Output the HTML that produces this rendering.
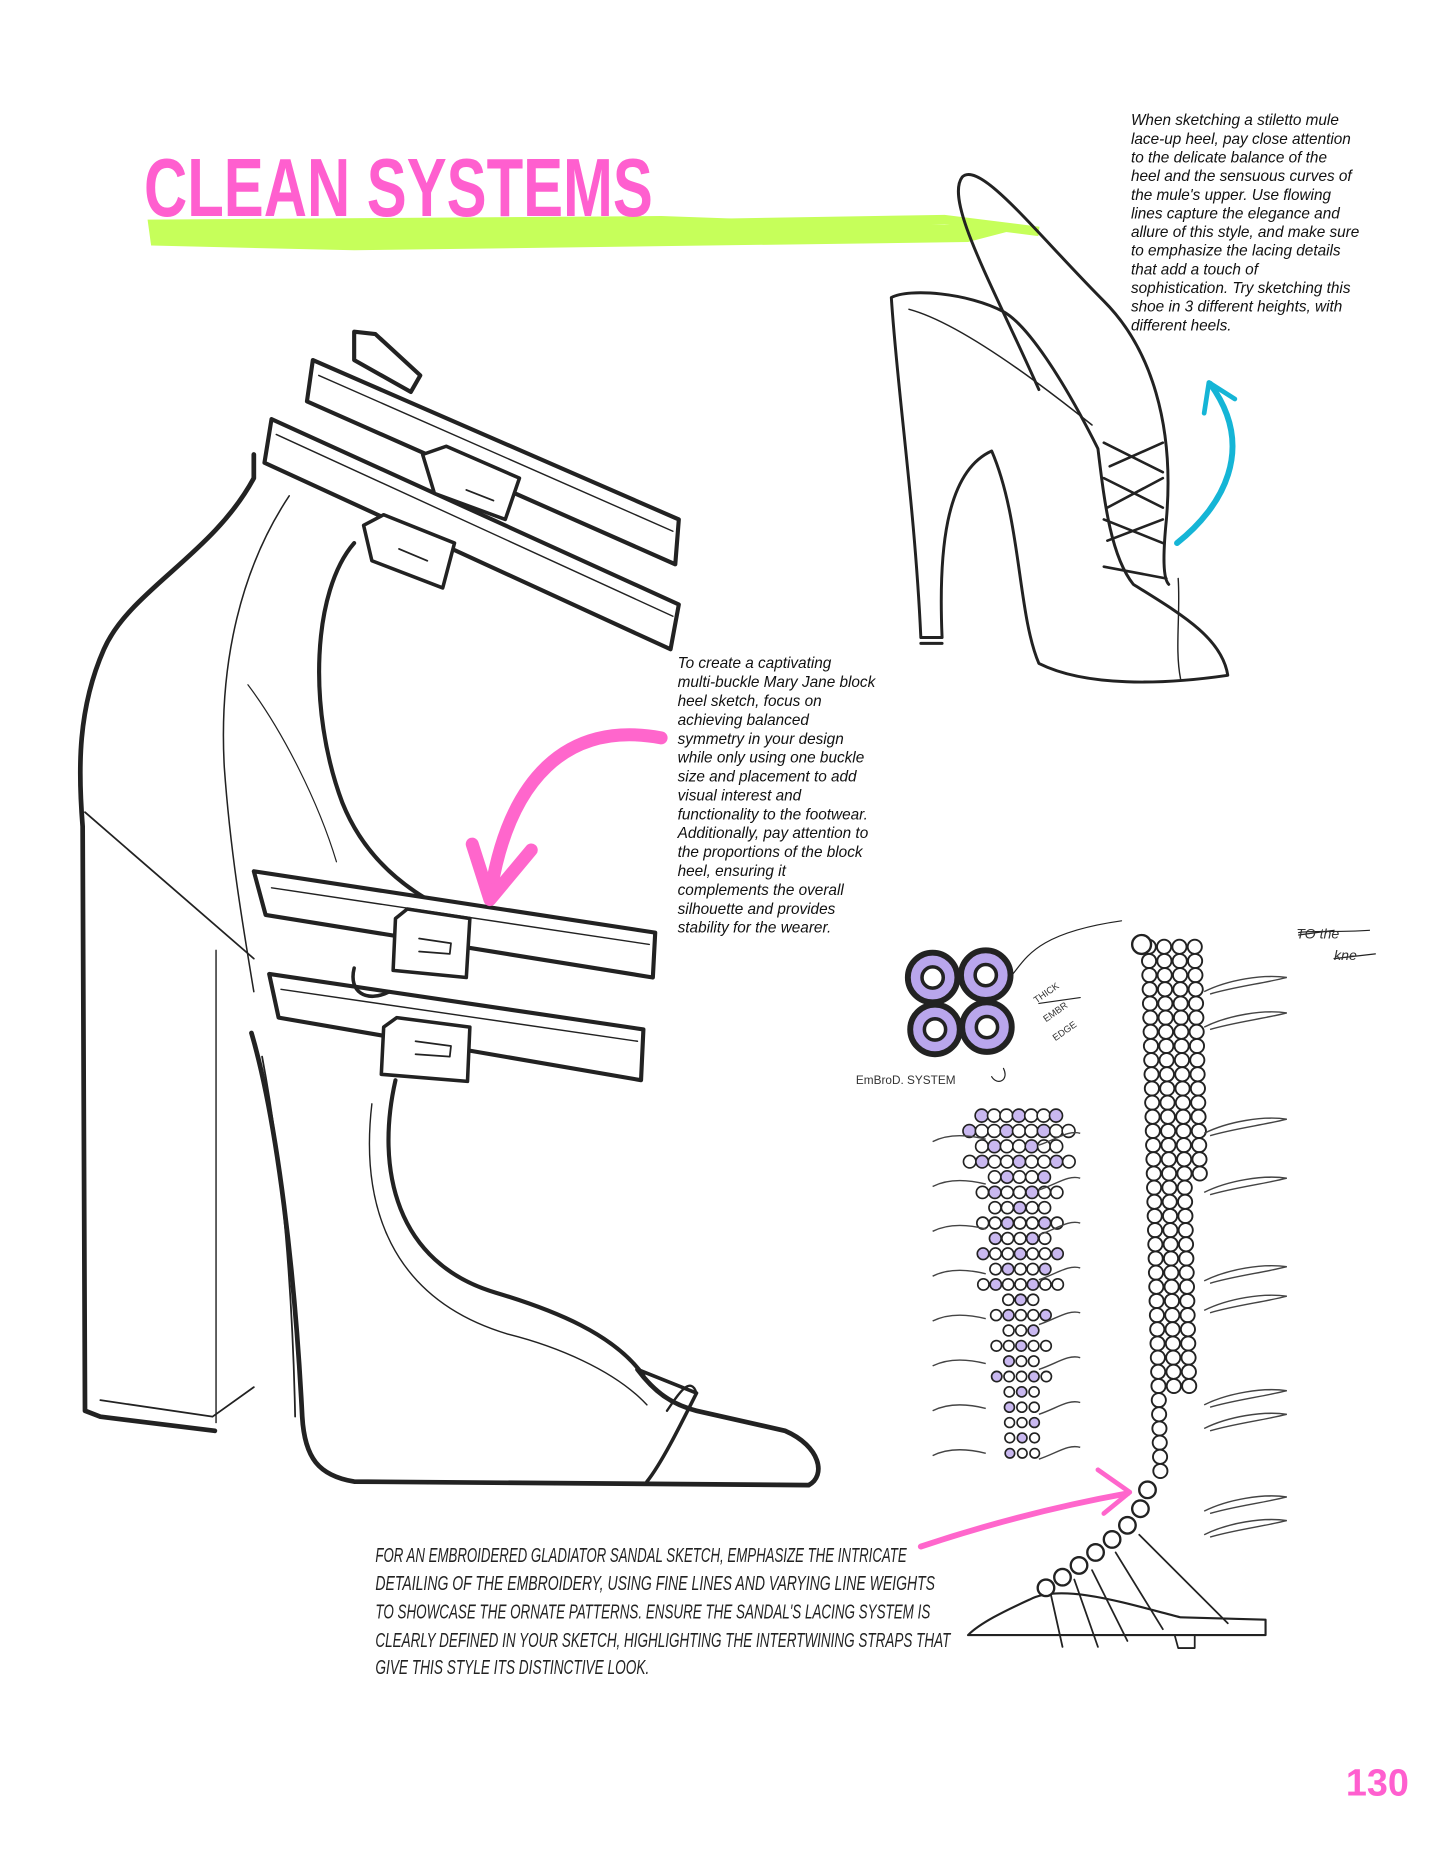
<!DOCTYPE html>
<html><head><meta charset="utf-8"><style>
html,body{margin:0;padding:0;background:#fff;}
svg{display:block}
.t{font-family:"Liberation Sans",sans-serif;font-style:italic;font-size:13px;fill:#111}
.h{font-family:"Liberation Sans",sans-serif;font-style:italic;font-size:17px;fill:#222}
</style></head><body>
<svg width="1445" height="1870" viewBox="0 0 1224 1584" xmlns="http://www.w3.org/2000/svg">
<!-- green brush -->
<path d="M125,186 L560,183 L700,188 L870,192 L820,205 L600,208 L300,212 L128,208 Z" fill="#c6ff5a"/>
<path d="M560,190 L800,186 L880,196" stroke="#c6ff5a" stroke-width="8" fill="none"/>
<text x="122" y="183" font-family="Liberation Sans,sans-serif" font-weight="bold" font-size="70" fill="#ff5fcf" textLength="431" lengthAdjust="spacingAndGlyphs">CLEAN SYSTEMS</text>

<g fill="none" stroke="#222" stroke-linecap="round" stroke-linejoin="round">
<!-- big shoe -->
<path d="M215,385 L215,405 C180,470 110,500 88,550 C66,600 66,650 70,700 L72,1195 L85,1200 L182,1212" stroke-width="4"/>
<path d="M85,1186 L180,1200 L215,1175" stroke-width="1.5"/>
<path d="M72,688 L215,812" stroke-width="1.5"/>
<path d="M183,805 L183,1205" stroke-width="1.2"/>
<path d="M213,875 C235,950 250,1080 256,1200 C258,1235 270,1250 300,1255 L685,1258 C700,1250 695,1225 665,1212 L590,1195 C570,1190 555,1180 540,1160" stroke-width="4"/>
<path d="M222,895 C240,990 248,1100 250,1200" stroke-width="1.5"/>
<path d="M245,420 C205,480 185,560 190,650 C195,720 205,780 215,840" stroke-width="1.3"/>
<path d="M300,460 C265,500 260,600 290,680 C310,730 350,760 395,778" stroke-width="3.5"/>
<path d="M335,915 C318,990 335,1070 420,1095 C470,1110 520,1130 545,1165" stroke-width="3.5"/>
<path d="M315,935 C305,1020 330,1100 430,1130 C470,1140 520,1160 548,1190" stroke-width="1.2"/>
<path d="M210,580 C240,620 270,680 285,730" stroke-width="1"/>
<path d="M540,1160 L590,1180 C575,1210 560,1240 548,1255" stroke-width="3"/>
<path d="M565,1195 C575,1180 585,1165 590,1180" stroke-width="2"/>
<!-- straps -->
<path d="M300,281 L318,283 L356,318 L348,332 L300,305 Z" stroke-width="3.5" fill="#fff"/>
<path d="M265,305 L575,440 L572,478 L260,340 Z" stroke-width="3.5" fill="#fff"/>
<path d="M270,318 L570,450" stroke-width="1.2"/>
<path d="M230,355 L575,512 L568,550 L224,392 Z" stroke-width="3.5" fill="#fff"/>
<path d="M234,368 L570,522" stroke-width="1.2"/>
<path d="M358,385 L378,378 L440,405 L428,440 L368,418 Z" stroke-width="3" fill="#fff"/>
<path d="M395,415 L418,424" stroke-width="1.5"/>
<path d="M308,445 L325,436 L385,460 L375,498 L315,475 Z" stroke-width="3" fill="#fff"/>
<path d="M338,465 L362,475" stroke-width="1.5"/>
<path d="M215,738 L555,790 L553,828 L225,775 Z" stroke-width="3.5" fill="#fff"/>
<path d="M230,752 L550,800" stroke-width="1.2"/>
<path d="M228,825 L545,872 L543,915 L236,862 Z" stroke-width="3.5" fill="#fff"/>
<path d="M238,838 L540,882" stroke-width="1.2"/>
<path d="M335,778 L345,770 L398,778 L395,828 L333,822 Z" stroke-width="3" fill="#fff"/>
<path d="M355,795 L382,799 L381,808 L355,806" stroke-width="1.5"/>
<path d="M300,820 C295,840 310,850 330,840" stroke-width="3"/>
<path d="M325,870 L336,862 L398,870 L396,916 L323,910 Z" stroke-width="3" fill="#fff"/>
<path d="M352,882 L382,886 L381,895 L352,893" stroke-width="1.5"/>
<!-- mule -->
<path d="M755,252 C760,330 775,430 780,540 L798,540 C795,470 800,400 840,382 C865,440 862,520 880,562 C920,582 985,580 1040,572 C1035,540 1000,520 960,495 C940,470 935,420 930,380 C900,320 870,275 850,264 C820,248 770,244 755,252 Z" stroke-width="2.5"/>
<path d="M770,262 C800,270 850,300 925,360" stroke-width="1.3"/>
<path d="M780,545 L798,545" stroke-width="2.5"/>
<path d="M998,490 C1000,520 995,550 1000,575" stroke-width="1.2"/>
<path d="M880,330 C840,240 800,170 815,150 C830,135 880,200 935,255 C975,295 995,360 988,440 C985,470 985,490 990,495" stroke-width="2.5"/>
<path d="M935,375 L985,400 M940,395 L985,375 M935,405 L985,430 M938,430 L985,405 M935,440 L985,460 M938,458 L985,440 M935,480 L988,490" stroke-width="2.2"/>
<!-- pink arrows -->
<path d="M560,625 C480,610 430,660 415,760" stroke="#ff66cc" stroke-width="11"/>
<path d="M400,715 L415,762 L450,720" stroke="#ff66cc" stroke-width="11"/>
<path d="M780,1310 C840,1290 900,1275 955,1265" stroke="#ff66cc" stroke-width="5"/>
<path d="M930,1245 L957,1264 L935,1282" stroke="#ff66cc" stroke-width="4"/>
<!-- blue arrow -->
<path d="M997,460 C1035,430 1065,380 1025,325" stroke="#15b5d6" stroke-width="5"/>
<path d="M1020,350 L1024,324 L1046,338" stroke="#15b5d6" stroke-width="4"/>
<!-- embroidery motif -->
<path d="M858,825 C870,810 880,790 950,780 M880,850 L915,845 M850,905 C855,915 845,920 840,912" stroke-width="1"/>
<!-- sandal sole -->
<path d="M820,1385 L1072,1385 L1072,1372 L1000,1370 C960,1360 900,1340 872,1355 C850,1365 830,1375 820,1385 Z" stroke-width="1.8" fill="#fff"/>
<path d="M995,1385 L998,1396 L1012,1396 L1012,1385" stroke-width="1.5"/>
<path d="M890,1350 L900,1395 M910,1338 L930,1395 M925,1330 L955,1390 M945,1315 L985,1380 M965,1300 L1040,1375" stroke-width="1.5"/>
<path d="M1100,792 L1130,788 M1100,790 C1110,788 1130,790 1160,788 M1130,812 L1165,808" stroke-width="1"/>
</g>
<text x="1098" y="795" font-family="Liberation Sans,sans-serif" font-style="italic" font-size="12" fill="#333">TO  the</text>
<text x="1130" y="813" font-family="Liberation Sans,sans-serif" font-style="italic" font-size="12" fill="#333">kne</text>
<text x="725" y="918" font-family="Liberation Sans,sans-serif" font-size="10" fill="#333">EmBroD.  SYSTEM</text>
<text x="878" y="850" font-family="Liberation Sans,sans-serif" font-size="8" fill="#333" transform="rotate(-35 878 850)">THICK</text>
<text x="886" y="866" font-family="Liberation Sans,sans-serif" font-size="8" fill="#333" transform="rotate(-35 886 866)">EMBR</text>
<text x="894" y="882" font-family="Liberation Sans,sans-serif" font-size="8" fill="#333" transform="rotate(-35 894 882)">EDGE</text>
<g id="beads" fill="#fff" stroke="#222" stroke-width="1.6"></g>
<g id="spikes" fill="none" stroke="#444" stroke-width="1.2"></g>

<text class="t" x="958" y="106"><tspan x="958">When sketching a stiletto mule</tspan><tspan x="958" dy="15.8">lace-up heel, pay close attention</tspan><tspan x="958" dy="15.8">to the delicate balance of the</tspan><tspan x="958" dy="15.8">heel and the sensuous curves of</tspan><tspan x="958" dy="15.8">the mule's upper. Use flowing</tspan><tspan x="958" dy="15.8">lines capture the elegance and</tspan><tspan x="958" dy="15.8">allure of this style, and make sure</tspan><tspan x="958" dy="15.8">to emphasize the  lacing details</tspan><tspan x="958" dy="15.8">that add a touch of</tspan><tspan x="958" dy="15.8">sophistication. Try sketching this</tspan><tspan x="958" dy="15.8">shoe in 3 different heights, with</tspan><tspan x="958" dy="15.8">different heels.</tspan></text>
<text class="t" x="574" y="566"><tspan x="574">To create a captivating</tspan><tspan x="574" dy="16">multi-buckle Mary Jane block</tspan><tspan x="574" dy="16">heel sketch, focus on</tspan><tspan x="574" dy="16">achieving balanced</tspan><tspan x="574" dy="16">symmetry in your design</tspan><tspan x="574" dy="16">while only using one buckle</tspan><tspan x="574" dy="16">size and placement to add</tspan><tspan x="574" dy="16">visual interest and</tspan><tspan x="574" dy="16">functionality to the footwear.</tspan><tspan x="574" dy="16">Additionally, pay attention to</tspan><tspan x="574" dy="16">the proportions of the block</tspan><tspan x="574" dy="16">heel, ensuring it</tspan><tspan x="574" dy="16">complements the overall</tspan><tspan x="574" dy="16">silhouette and provides</tspan><tspan x="574" dy="16">stability for the wearer.</tspan></text>
<text class="h" x="318" y="1323" textLength="450" lengthAdjust="spacingAndGlyphs">FOR AN EMBROIDERED GLADIATOR SANDAL SKETCH, EMPHASIZE THE INTRICATE</text>
<text class="h" x="318" y="1347" textLength="474" lengthAdjust="spacingAndGlyphs">DETAILING OF THE EMBROIDERY, USING FINE LINES AND VARYING LINE WEIGHTS</text>
<text class="h" x="318" y="1371" textLength="470" lengthAdjust="spacingAndGlyphs">TO SHOWCASE THE ORNATE PATTERNS. ENSURE THE SANDAL'S LACING SYSTEM IS</text>
<text class="h" x="318" y="1395" textLength="487" lengthAdjust="spacingAndGlyphs">CLEARLY DEFINED IN YOUR SKETCH, HIGHLIGHTING THE INTERTWINING STRAPS THAT</text>
<text class="h" x="318" y="1418" textLength="232" lengthAdjust="spacingAndGlyphs">GIVE THIS STYLE ITS DISTINCTIVE LOOK.</text>
<text x="1140" y="1521" font-family="Liberation Sans,sans-serif" font-weight="bold" font-size="32" fill="#ff5fcf">130</text>
</svg>
<script>
(function(){
var NS="http://www.w3.org/2000/svg",b=document.getElementById("beads"),s=document.getElementById("spikes");
function c(x,y,r,f,sw){var e=document.createElementNS(NS,"circle");e.setAttribute("cx",x);e.setAttribute("cy",y);e.setAttribute("r",r);if(f)e.setAttribute("fill",f);if(sw)e.setAttribute("stroke-width",sw);b.appendChild(e);}
function p(d){var e=document.createElementNS(NS,"path");e.setAttribute("d",d);s.appendChild(e);}
[[790,828],[835,826],[792,872],[836,870]].forEach(function(q){c(q[0],q[1],21,"#b9a6ec",5);c(q[0],q[1],9,"#fff",3);});
for(var y=945;y<1235;y+=13){var t=(y-945)/290,w=Math.round(4-3*t);var cx=858+3*t;for(var k=-w;k<=w;k+=1){if(Math.abs(k)>w-0.5&&w>1&&(y%2))continue;c(cx+k*10.5+(y%26?5:0),y,5.5-1.5*t,(k+y)%3==0?"#c9b8f0":"#fff",1.4);}}
for(var i=0;i<8;i++){var yy=965+i*38;p("M835,"+yy+" C815,"+(yy-5)+" 800,"+(yy-3)+" 790,"+(yy+2));p("M880,"+(yy+5)+" C895,"+yy+" 905,"+(yy-8)+" 915,"+(yy-5));}
for(var y=802;y<1250;y+=12){var t=(y-800)/450;var x0=967+10*t;var n=y<1000?4:(y<1180?3:1);for(var k=0;k<n;k++)c(x0+k*13+(y%24?6:0),y,6,"#fff",1.6);}
var pts=[[972,1262],[966,1278],[955,1292],[942,1304],[928,1315],[914,1326],[900,1336],[886,1345]];pts.forEach(function(q){c(q[0],q[1],7,"#fff",2);});
c(967,800,8,"#fff",2);
[830,860,950,1000,1075,1100,1180,1200,1270,1290].forEach(function(y){p("M1020,"+(y+10)+" C1040,"+y+" 1070,"+(y-5)+" 1090,"+(y-2)+" C1070,"+(y+3)+" 1045,"+(y+6)+" 1025,"+(y+12));});
})();
</script>
</body></html>
